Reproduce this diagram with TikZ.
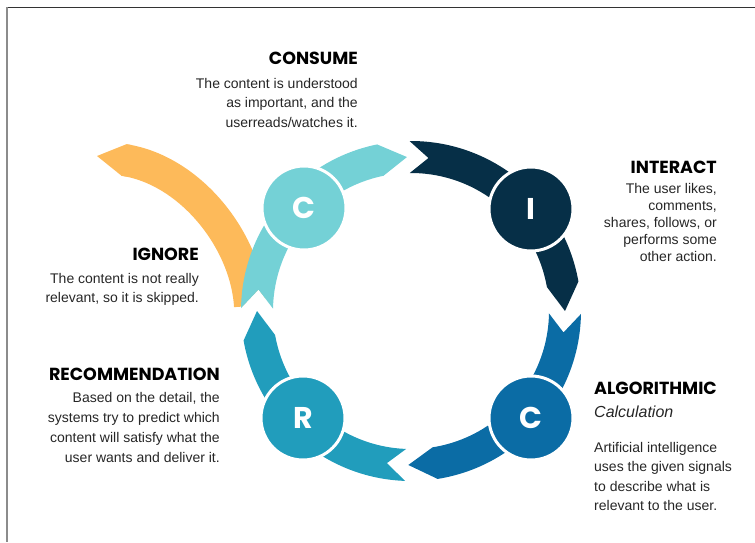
\documentclass[tikz,border=0pt]{standalone}
\usepackage{fontspec}
\setmainfont{Liberation Sans}
\newfontfamily\headfont{Poppins}

\definecolor{consumecol}{HTML}{74D1D6}
\definecolor{interactcol}{HTML}{062F47}
\definecolor{algocol}{HTML}{0B6CA5}
\definecolor{recocol}{HTML}{219DBC}
\definecolor{ignorecol}{HTML}{FDBA5A}
\definecolor{bodytext}{HTML}{262626}

\begin{document}
\begin{tikzpicture}[x=1pt, y=-1pt,
    hd/.style={font=\headfont\bfseries\fontsize{17.5}{20}\selectfont, text=black, inner sep=0pt},
    txt/.style={font=\fontsize{14}{19.5}\selectfont, text=bodytext, inner sep=0pt},
    stage/.style={circle, minimum size=84pt, draw=white, line width=3pt, text=white,
        font=\headfont\bfseries\fontsize{30}{30}\selectfont, inner sep=0pt}]

    \useasboundingbox (0,0) rectangle (755,542);
    \draw[line width=1pt, black!80] (7,7) -- (755,7);
    \draw[line width=2pt, black!45] (7,7) -- (7,542);

    % ignore path
    \draw[ignorecol, line width=32pt] (250,306) .. controls (246,240) and (190,170) .. (124,160);
    \fill[ignorecol] (121.6,175.8) -- (97,156) -- (126.4,144.2) -- (131.3,145) -- (126.5,176.6) -- cycle;

    % ring of four arrows
    \begin{scope}[shift={(411,311)}]
        \fill[white] (181:170) -- (188:154) -- (181:138) -- cycle;
        \foreach \a/\b/\col in {181/258.5/consumecol, 269.5/350/interactcol, 361/441/algocol, 452/530/recocol} {
            \fill[\col] (\a:170) arc[start angle=\a, end angle=\b, radius=170]
                -- ({\b+10}:154) -- (\b:138) arc[start angle=\b, end angle=\a, radius=138]
                -- ({\a+7}:154) -- cycle;
        }
    \end{scope}

    \node[stage, fill=consumecol] (consume) at (304,208) {C};
    \node[stage, fill=interactcol] (interact) at (531,209) {I};
    \node[stage, fill=algocol] (algo) at (531,418) {C};
    \node[stage, fill=recocol] (reco) at (303,418) {R};

    % texts, body nodes sit on the baseline of their last line
    \node[hd, anchor=base east] (consumehd) at (358,64) {CONSUME};
    \node[txt, anchor=base east, align=right] (consumetx) at (358,127)
        {The content is understood\\as important, and the\\userreads/watches it.};

    \node[hd, anchor=base east] (interacthd) at (717,173) {INTERACT};
    \node[txt, anchor=base east, align=right, font=\fontsize{14}{17}\selectfont] (interacttx) at (717,261.5)
        {The user likes,\\comments,\\shares, follows, or\\performs some\\other action.};

    \node[hd, anchor=base east] (ignorehd) at (199,260) {IGNORE};
    \node[txt, anchor=base east, align=right, font=\fontsize{14}{19}\selectfont] (ignoretx) at (199,302)
        {The content is not really\\relevant, so it is skipped.};

    \node[hd, anchor=base east] (recohd) at (220,380) {RECOMMENDATION};
    \node[txt, anchor=base east, align=right, font=\fontsize{14}{19.7}\selectfont] (recotx) at (220,462)
        {Based on the detail, the\\systems try to predict which\\content will satisfy what the\\user wants and deliver it.};

    \node[hd, anchor=base west] (algohd) at (594,394) {ALGORITHMIC};
    \node[txt, anchor=base west, font=\itshape\fontsize{16}{19}\selectfont] (algosub) at (594,417) {Calculation};
    \node[txt, anchor=base west, align=left] (algotx) at (594,510.5)
        {Artificial intelligence\\uses the given signals\\to describe what is\\relevant to the user.};

\end{tikzpicture}
\end{document}
